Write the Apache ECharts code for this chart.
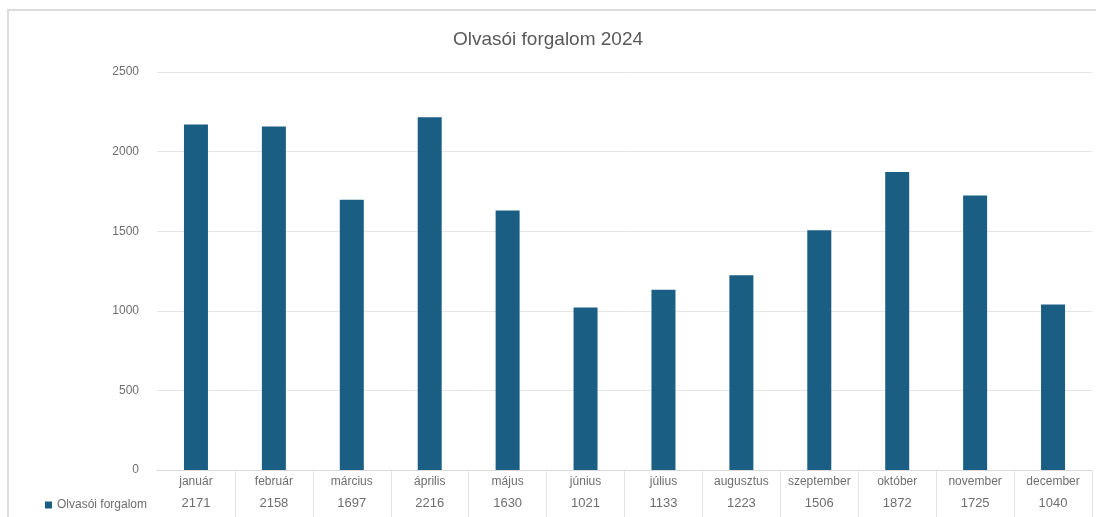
<!DOCTYPE html>
<html>
<head>
<meta charset="utf-8">
<script src="https://cdn.jsdelivr.net/npm/echarts@6/dist/echarts.min.js"></script>
<style>html,body{margin:0;padding:0;background:#fff}#c{width:1096px;height:517px}</style>
</head>
<body>
<div id="c"></div>
<script>
const categories = ['január','február','március','április','május','június','július','augusztus','szeptember','október','november','december'];
const values = [2171, 2158, 1697, 2216, 1630, 1021, 1133, 1223, 1506, 1872, 1725, 1040];
const seriesName = 'Olvasói forgalom';
const chartTitle = 'Olvasói forgalom 2024';
const yTicks = [0, 500, 1000, 1500, 2000, 2500];

const FONT = '"Liberation Sans Narrow", "Liberation Sans", Arial, sans-serif';
const chart = echarts.init(document.getElementById('c'));
chart.setOption({
  animation: false,
  backgroundColor: '#fff',
  textStyle: { fontFamily: FONT },
  title: {
    text: chartTitle, left: 'center', top: 25,
    textStyle: { color: '#595959', fontSize: 19, fontWeight: 'normal', fontFamily: FONT }
  },
  legend: {
    data: [seriesName], left: 40, top: 494, icon: 'rect', itemWidth: 7, itemHeight: 7, itemGap: 3,
    textStyle: { color: '#6e6e6e', fontSize: 12, fontFamily: FONT }
  },
  graphic: [
    { type: 'polyline', shape: { points: [[8, 517], [8, 10], [1096, 10]] }, style: { stroke: '#dcdcdc', lineWidth: 2, fill: null } }
  ],
  grid: { left: 157, right: 4, top: 72, bottom: 47 },
  xAxis: {
    type: 'category', data: categories,
    axisLine: { lineStyle: { color: '#d9d9d9' } },
    axisTick: { show: true, length: 47, interval: (i) => i !== 0, lineStyle: { color: '#e3e3e3' } },
    axisLabel: {
      margin: 3, interval: 0,
      formatter: (v, i) => '{a|' + v + '}\n{b|' + values[i] + '}',
      rich: {
        a: { color: '#6e6e6e', fontSize: 12, fontFamily: FONT, lineHeight: 18 },
        b: { color: '#6e6e6e', fontSize: 13, fontFamily: FONT, lineHeight: 24 }
      }
    }
  },
  yAxis: {
    type: 'value', min: yTicks[0], max: yTicks[yTicks.length - 1], interval: 500,
    axisLine: { show: false }, axisTick: { show: false },
    axisLabel: { color: '#6e6e6e', fontSize: 12, margin: 18, fontFamily: FONT, formatter: (v) => String(v) },
    splitLine: { lineStyle: { color: '#e6e6e6' } }
  },
  series: [{
    name: seriesName, type: 'bar', data: values, barWidth: 24,
    itemStyle: { color: '#1a5f83' }
  }]
});
</script>
</body>
</html>
